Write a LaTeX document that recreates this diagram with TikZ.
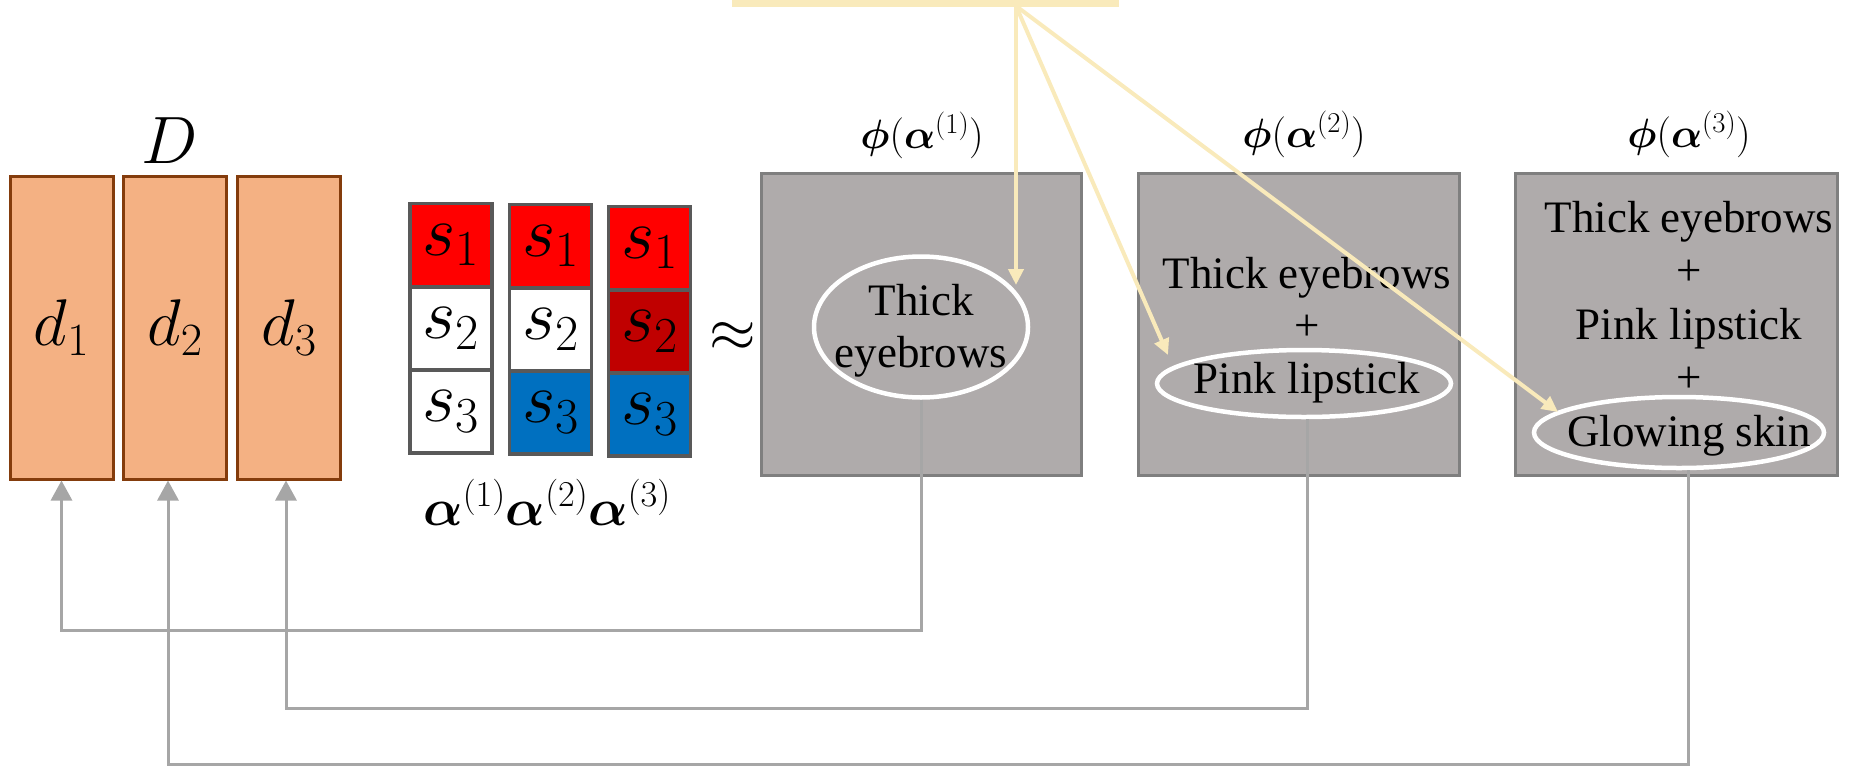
\RequirePackage{fix-cm}
\documentclass[tikz,border=0pt]{standalone}
\usepackage{amsmath,bm}
\usepackage{fontspec}
\newfontfamily\tnr{Liberation Serif}
\usetikzlibrary{shapes.geometric,arrows.meta}
\definecolor{peach}{HTML}{F4B183}
\definecolor{brownb}{HTML}{843C0C}
\definecolor{boxgray}{HTML}{AFABAB}
\definecolor{boxedge}{HTML}{7F7F7F}
\definecolor{celledge}{HTML}{595959}
\definecolor{sred}{HTML}{FF0000}
\definecolor{sdark}{HTML}{C00000}
\definecolor{sblue}{HTML}{0070C0}
\definecolor{linkgray}{HTML}{A6A6A6}
\definecolor{hl}{HTML}{F9EABB}
\begin{document}
\begin{tikzpicture}[x=1pt,y=-1pt,
 dbox/.style={draw=brownb, fill=peach, line width=3pt, minimum width=103pt, minimum height=303pt, inner sep=0pt, font=\fontsize{66}{70}\selectfont},
 cell/.style={draw=celledge, line width=3.5pt, minimum width=82pt, minimum height=83pt, inner sep=0pt, font=\fontsize{72}{76}\selectfont},
 gbox/.style={draw=boxedge, fill=boxgray, line width=3pt, minimum height=302pt, inner sep=0pt},
 hiell/.style={ellipse, draw=white, line width=4.5pt, inner sep=0pt},
 txt/.style={font=\tnr\fontsize{45}{53}\selectfont, anchor=base, inner sep=0pt},
 phil/.style={font=\fontsize{41}{45}\selectfont, anchor=base, inner sep=0pt},
 link/.style={draw=linkgray, line width=3pt},
 linkarrow/.style={link, -{Triangle[length=20pt,width=21pt]}},
 hlarrow/.style={draw=hl, line width=4pt, -{Triangle[length=16pt,width=15pt]}}]
\useasboundingbox (0,0) rectangle (1849,766);

% dictionary D
\node[font=\fontsize{67}{70}\selectfont, anchor=base, inner sep=0pt] (Dlab) at (170,163) {$D$};
\node[dbox] (d1) at (61.5,327.5) {$d_1$};
\node[dbox] (d2) at (175,327.5) {$d_2$};
\node[dbox] (d3) at (289,327.5) {$d_3$};

% sparse codes
\node[cell, fill=sred]   (c11) at (451,245)   {$s_1$};
\node[cell, fill=white]  (c12) at (451,328.5) {$s_2$};
\node[cell, fill=white]  (c13) at (451,411.5) {$s_3$};
\node[cell, fill=sred]   (c21) at (550.5,246)   {$s_1$};
\node[cell, fill=white]  (c22) at (550.5,329.5) {$s_2$};
\node[cell, fill=sblue]  (c23) at (550.5,412.5) {$s_3$};
\node[cell, fill=sred]   (c31) at (649.5,248)   {$s_1$};
\node[cell, fill=sdark]  (c32) at (649.5,331.5) {$s_2$};
\node[cell, fill=sblue]  (c33) at (649.5,414.5) {$s_3$};
\node[font=\fontsize{52}{56}\selectfont, anchor=base, inner sep=0pt] (alab) at (547,525)
  {$\bm{\alpha}^{(1)}\bm{\alpha}^{(2)}\bm{\alpha}^{(3)}$};
\node[font=\fontsize{60}{64}\selectfont, inner sep=0pt] (approx) at (733,337) {$\approx$};

% concept boxes
\node[gbox, minimum width=320pt] (b1) at (921,324.5) {};
\node[gbox, minimum width=321pt] (b2) at (1299,324.5) {};
\node[gbox, minimum width=322pt] (b3) at (1676,324.5) {};
\node[phil] (p1) at (922,148) {$\bm{\phi}(\bm{\alpha}^{(1)})$};
\node[phil] (p2) at (1304,147) {$\bm{\phi}(\bm{\alpha}^{(2)})$};
\node[phil] (p3) at (1689,147) {$\bm{\phi}(\bm{\alpha}^{(3)})$};

\node[hiell, minimum width=214pt, minimum height=141pt] (e1) at (921,327) {};
\node[txt] (t11) at (921,315) {Thick};
\node[txt] (t12) at (921,367) {eyebrows};

\node[hiell, minimum width=294pt, minimum height=67pt] (e2) at (1304,383.5) {};
\node[txt] (t21) at (1307,288) {Thick eyebrows};
\node[txt] (t22) at (1307,340.5) {+};
\node[txt] (t23) at (1307,393) {Pink lipstick};

\node[hiell, minimum width=290pt, minimum height=71pt] (e3) at (1679,432.5) {};
\node[txt] (t31) at (1689,232) {Thick eyebrows};
\node[txt] (t32) at (1689,285.5) {+};
\node[txt] (t33) at (1689,339) {Pink lipstick};
\node[txt] (t34) at (1689,392.5) {+};
\node[txt] (t35) at (1689,446) {Glowing skin};

% feedback connectors
\coordinate (h1) at (0,630);
\coordinate (h2) at (0,708);
\coordinate (h3) at (0,764);
\draw[linkarrow] (e1.south) -- (e1.south |- h1) -| (d1.south);
\draw[linkarrow] ([xshift=3pt]e2.south) -- ([xshift=3pt]e2.south |- h2) -| ([xshift=-3pt]d3.south);
\draw[linkarrow] ([xshift=9pt]e3.south) -- ([xshift=9pt]e3.south |- h3) -| ([xshift=-7pt]d2.south);

% highlight bar and arrows
\node[fill=hl, minimum width=387pt, minimum height=14pt, inner sep=0pt] (bar) at (925.5,0) {};
\coordinate (src) at (1016,6);
\coordinate (tip1) at (1016,285);
\coordinate (tip2) at (1168,355);
\coordinate (tip3) at (1558,412);
\draw[hlarrow] (src) -- (tip1);
\draw[hlarrow] (src) -- (tip2);
\draw[hlarrow] (src) -- (tip3);
\end{tikzpicture}
\end{document}
